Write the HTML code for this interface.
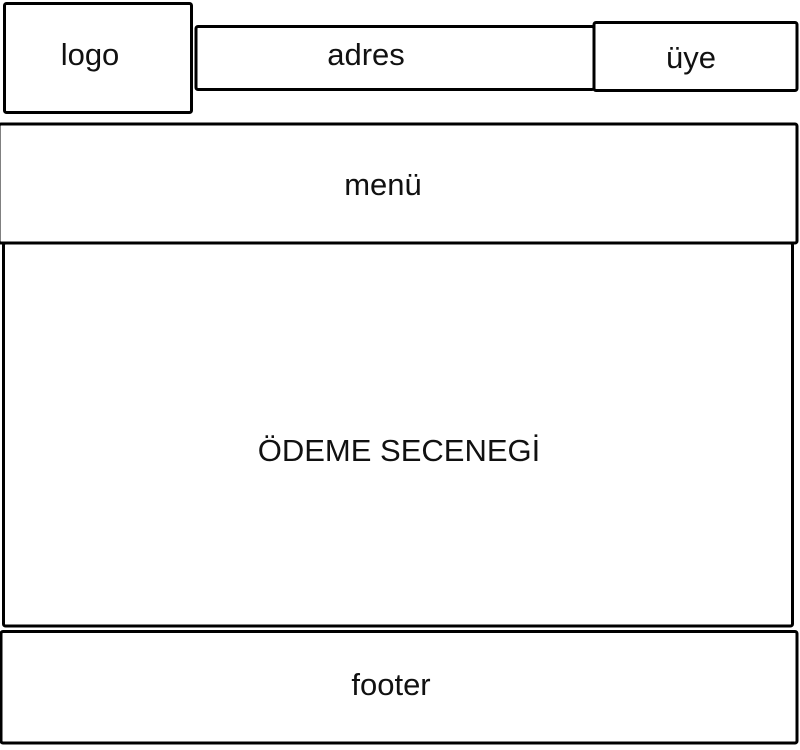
<!DOCTYPE html>
<html><head><meta charset="utf-8"><style>
html,body{margin:0;padding:0;background:#fff;width:800px;height:750px;overflow:hidden}
svg text{font-family:"Liberation Sans",sans-serif;font-size:31px;fill:#111;text-anchor:middle}
</style></head><body>
<svg width="800" height="750" viewBox="0 0 800 750" xmlns="http://www.w3.org/2000/svg">
<g fill="none" stroke="#000" stroke-width="3" stroke-linejoin="round">
<rect x="4.5" y="3.5" width="187" height="109" rx="2"/>
<rect x="196" y="26.5" width="398" height="63" rx="2"/>
<rect x="594" y="22.5" width="203" height="68" rx="2"/>
<rect x="-1" y="124" width="798" height="119" rx="2"/>
<rect x="3.5" y="243" width="789" height="383" rx="2"/>
<rect x="1" y="631.5" width="796" height="111.5" rx="2"/>
</g>
<text x="90" y="65">logo</text>
<text x="366" y="65">adres</text>
<text x="691" y="68">üye</text>
<text x="383" y="195">menü</text>
<text x="399" y="461">ÖDEME SECENEGİ</text>
<text x="391" y="695">footer</text>
</svg>
</body></html>
